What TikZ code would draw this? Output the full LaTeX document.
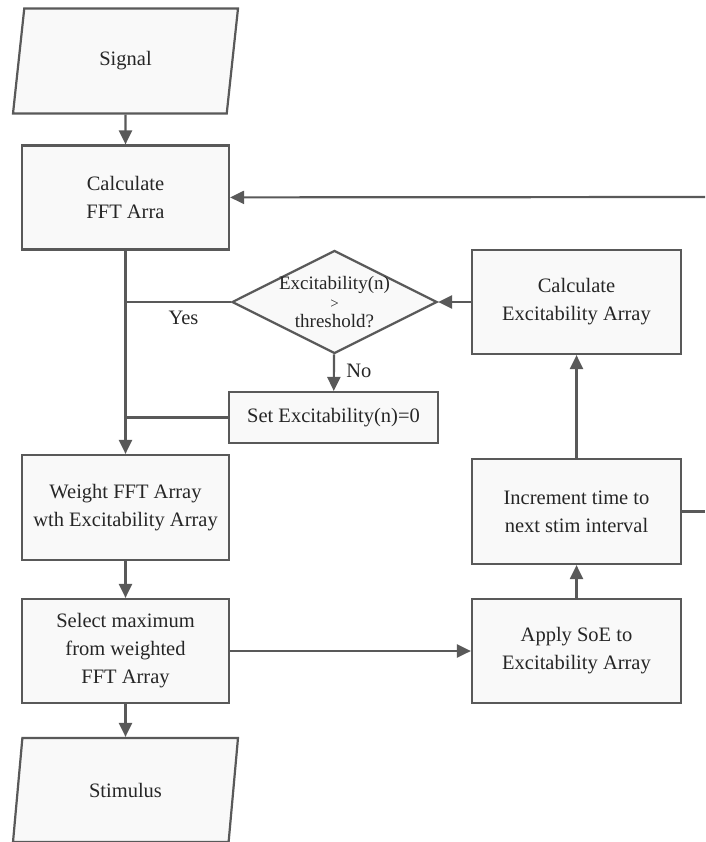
\documentclass[tikz,border=0pt]{standalone}
\usepackage{fontspec}
\setmainfont{Liberation Serif}
\usetikzlibrary{shapes.geometric,arrows.meta}
\begin{document}
\begin{tikzpicture}[x=1pt,y=-1pt,
	font=\fontsize{20.5}{28}\selectfont,
	every node/.style={text=black!85},
	box/.style={draw=black!65,line width=2.2pt,fill=gray!5,align=center,minimum width=207,minimum height=104},
	io/.style={trapezium,trapezium left angle=66,trapezium right angle=114,trapezium stretches body,draw=black!65,line width=2.2pt,fill=gray!5,minimum width=225,minimum height=105},
	decision/.style={diamond,draw=black!65,line width=2.2pt,fill=gray!5,inner sep=0,minimum width=205,minimum height=103},
	flow/.style={draw=black!65,line width=2.2pt,-{Triangle[length=14pt,width=13pt]}},
	link/.style={draw=black!65,line width=2.2pt}]
	\useasboundingbox (0,0) rectangle (705,842);
	\node[io] (sig) at (125.5,61) {Signal};
	\node[box] (fft) at (125.5,197.5) {Calculate\\FFT Arra};
	\node[decision] (chk) at (334.5,302) {};
	\node[align=center,font=\fontsize{19}{19}\selectfont,inner sep=0] at (chk) {Excitability(n)\\{\fontsize{15}{13}\selectfont >}\\threshold?};
	\node[box,minimum width=209,minimum height=51] (setz) at (333.5,417.5) {Set Excitability(n)=0};
	\node[box,minimum width=209] (cexc) at (576.5,302) {Calculate\\Excitability Array};
	\node[box,minimum height=105] (wgt) at (125.5,507.5) {Weight FFT Array\\wth Excitability Array};
	\node[box] (sel) at (125.5,651) {Select maximum\\from weighted\\FFT Array};
	\node[io,minimum height=104] (stim) at (125.5,790) {Stimulus};
	\node[box,minimum width=209,minimum height=105] (incr) at (576.5,511.5) {Increment time to\\next stim interval};
	\node[box,minimum width=209] (soe) at (576.5,651) {Apply SoE to\\Excitability Array};
	\coordinate (back) at (705,197);
	\coordinate (out) at (705,511.5);
	\draw[flow] (sig) -- (fft);
	\draw[flow] (back) -- (fft);
	\draw[flow] (fft) -- (wgt);
	\draw[link] (chk.west) -- (chk.west -| fft.south) node[pos=0.45,below=5pt] {Yes};
	\draw[flow] (chk) -- (setz) node[pos=0.45,right=8pt] {No};
	\draw[link] (setz) -- (setz -| fft.south);
	\draw[flow] (cexc) -- (chk);
	\draw[flow] (incr) -- (cexc);
	\draw[link] (incr) -- (out);
	\draw[flow] (soe) -- (incr);
	\draw[flow] (sel) -- (soe);
	\draw[flow] (wgt) -- (sel);
	\draw[flow] (sel) -- (stim);
\end{tikzpicture}
\end{document}
